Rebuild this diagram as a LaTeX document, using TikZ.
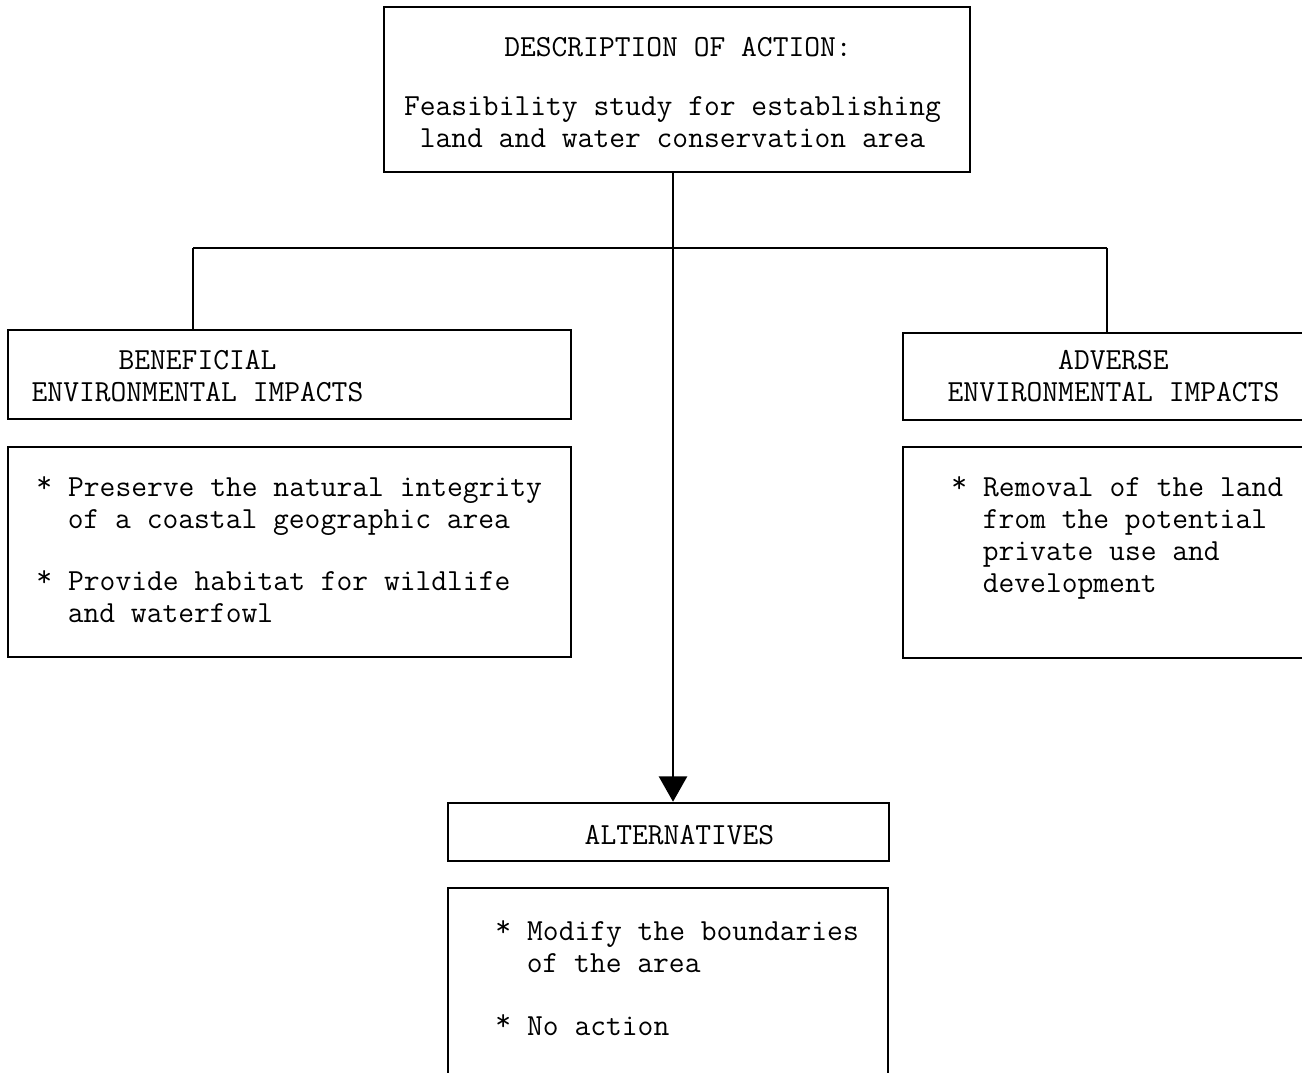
\documentclass[tikz,border=0pt]{standalone}
\usetikzlibrary{arrows.meta}

\tikzset{every picture/.style={line width=1.9pt}}
\tikzset{
  box/.style={draw, rectangle, inner sep=0pt, line width=1.9pt},
  txt/.style={inner sep=0pt, font=\fontsize{23}{24}\ttfamily},
  link/.style={draw, line width=1.9pt},
  arr/.style={link, -{Triangle[width=21pt,length=19pt]}}
}
\newcommand{\bulletpad}{\hphantom{*~}}
\newcommand{\itemstar}{\makebox[0.525em]{\raisebox{0.14em}{*}}}

\begin{document}
\begin{tikzpicture}[x=0.75pt,y=0.75pt,yscale=-1,xscale=1]
\useasboundingbox (0,0) rectangle (1302,1073);

%Boxes
\node[box, minimum width=439.5pt, minimum height=123.75pt] (action) at (677,89.5) {};
\node[box, minimum width=422.25pt, minimum height=66.75pt] (benhead) at (289.5,374.5) {};
\node[box, minimum width=422.25pt, minimum height=157.5pt] (benlist) at (289.5,552) {};
\node[box, minimum width=301.5pt, minimum height=65.25pt] (advhead) at (1104,376.5) {};
\node[box, minimum width=301.5pt, minimum height=158.25pt] (advlist) at (1104,552.5) {};
\node[box, minimum width=330.75pt, minimum height=43.5pt] (althead) at (668.5,832) {};
\node[box, minimum width=330pt, minimum height=147.75pt] (altlist) at (668,986.5) {};

%Connectors
\coordinate (jl) at (193,248);
\coordinate (jr) at (1107,248);
\coordinate (jm) at (673,248);
\draw[link] (jl) -- (jr);
\draw[link] (jl) -- (jl |- benhead.north);
\draw[link] (jr) -- (jr |- advhead.north);
\draw[arr] (action.south -| jm) -- (althead.north -| jm);

% Text Node
\node[txt, anchor=north] (desc) at (678,36) {DESCRIPTION OF ACTION:};
% Text Node
\node[txt, anchor=north, align=center] (study) at (672.5,95) {Feasibility study for establishing\\land and water conservation area};
% Text Node
\node[txt, anchor=north, align=center] (bentxt) at (197.5,349) {BENEFICIAL\\ENVIRONMENTAL IMPACTS};
% Text Node
\node[txt, anchor=north, align=center] (advtxt) at (1113.5,349) {ADVERSE\\ENVIRONMENTAL IMPACTS};
% Text Node
\node[txt, anchor=north west, align=left] (benitems) at (35,475) {\itemstar{} Preserve the natural integrity\\\bulletpad of a coastal geographic area\\[22.5pt]\itemstar{} Provide habitat for wildlife\\\bulletpad and waterfowl};
% Text Node
\node[txt, anchor=north west, align=left] (advitems) at (950,475) {\itemstar{} Removal of the land\\\bulletpad from the potential\\\bulletpad private use and\\\bulletpad development};
% Text Node
\node[txt, anchor=north] (alttxt) at (679.5,824) {ALTERNATIVES};
% Text Node
\node[txt, anchor=north west, align=left] (altitems) at (494,919) {\itemstar{} Modify the boundaries\\\bulletpad of the area\\[23pt]\itemstar{} No action};

\end{tikzpicture}
\end{document}
